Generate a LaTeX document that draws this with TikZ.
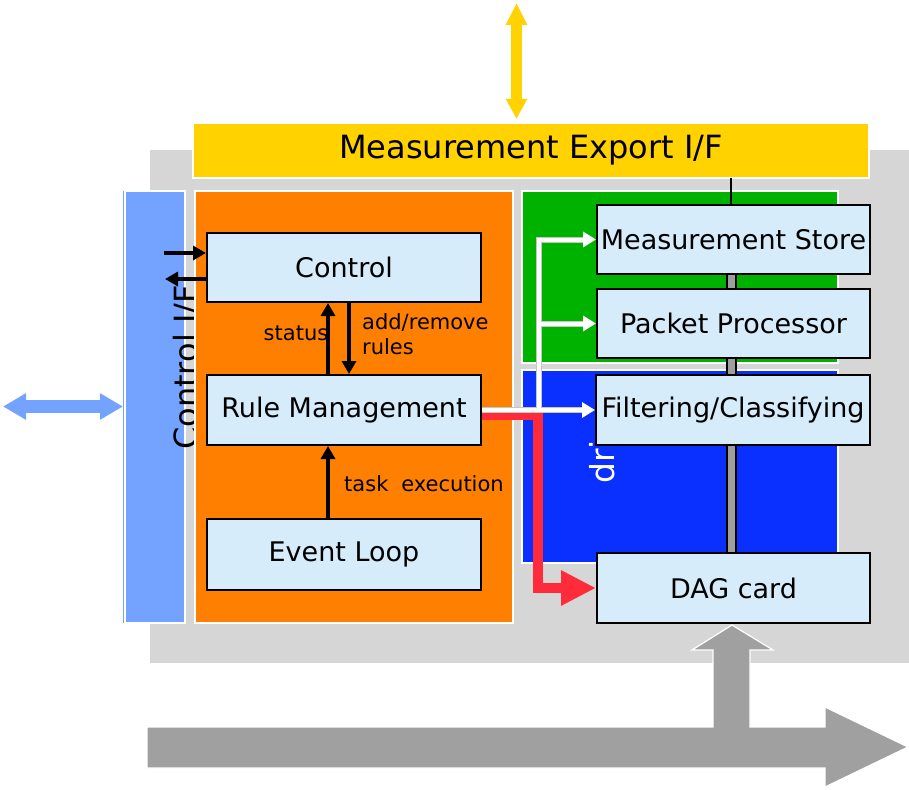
\documentclass[tikz,border=0pt]{standalone}
\usepackage{fontspec}
\setmainfont{DejaVu Sans}
\usetikzlibrary{arrows.meta}
\definecolor{bggray}{HTML}{D6D6D6}
\definecolor{expyellow}{HTML}{FFD200}
\definecolor{cifblue}{HTML}{74A3FF}
\definecolor{orangebg}{HTML}{FF8000}
\definecolor{greenbg}{HTML}{00B200}
\definecolor{drvblue}{HTML}{0A30FF}
\definecolor{boxfill}{HTML}{D6ECFB}
\definecolor{arrgray}{HTML}{A0A0A0}
\definecolor{redarr}{HTML}{FF2A3A}
\definecolor{bargray}{HTML}{9E9E9E}
\begin{document}
\begin{tikzpicture}[x=1pt,y=-1pt,
  region/.style={draw=white,line width=1.5pt},
  compbox/.style={draw=black,line width=2pt,fill=boxfill,inner sep=0pt,
    minimum width=273pt,minimum height=69pt,font=\fontsize{27}{30}\selectfont},
  lbl/.style={inner sep=0pt,font=\fontsize{21}{25}\selectfont},
  blackarr/.style={draw=black,line width=4.5pt,-{Triangle[width=14pt,length=13pt]}},
  whitearr/.style={draw=white,line width=4pt,-{Triangle[width=15pt,length=13pt]}},
  whiteedge/.style={draw=gray!45,line width=6pt},
  redpath/.style={draw=redarr,line width=10pt,-{Triangle[width=33pt,length=35pt]}},
]
\useasboundingbox (0,0) rectangle (909,789);
% background
\fill[bggray] (150,150) rectangle (909,663);
% big gray arrows
\draw[fill=arrgray,draw=white,line width=1.2pt]
  (147,727) -- (713,727) -- (713,650) -- (692,650) -- (732,625) -- (773,650)
  -- (750,650) -- (750,727) -- (825,727) -- (825,707) -- (908,747)
  -- (825,787) -- (825,768) -- (147,768) -- cycle;
% export interface
\node[region,fill=expyellow,minimum width=676pt,minimum height=55pt,inner sep=0pt,
  font=\fontsize{32}{36}\selectfont] (exp) at (531,150.5) {Measurement Export I/F};
\coordinate (ytop) at (516.5,3);
\coordinate (ybot) at (516.5,119);
\draw[draw=expyellow,line width=11pt,{Triangle[width=20pt,length=22pt]}-{Triangle[width=20pt,length=20pt]}] (ytop) -- (ybot);
% control interface
\fill[cifblue] (123,191) rectangle (124,623);
\draw[region,fill=cifblue] (125,191) rectangle (185,623);
\node[anchor=base west,rotate=90,inner sep=0pt,font=\fontsize{32}{36}\selectfont] (cif) at (197,450) {Control I/F};
\coordinate (bl) at (3,406.5);
\coordinate (br) at (123,406.5);
\draw[draw=cifblue,line width=13pt,{Triangle[width=25pt,length=23pt]}-{Triangle[width=25pt,length=23pt]}] (bl) -- (br);
% regions
\draw[region,fill=orangebg] (195,191) rectangle (513,623);
\draw[region,fill=greenbg] (522,191) rectangle (838,363);
\draw[region,fill=drvblue] (522,370) rectangle (838,563);
\node[anchor=base west,rotate=90,inner sep=0pt,text=white,font=\fontsize{33}{36}\selectfont] (drv) at (614,484) {dri};
% vertical bus bar
\draw[fill=bargray,line width=1.2pt] (727,274) rectangle (736,553);
% component boxes
\node[compbox,minimum width=274pt] (ctrl) at (344,267.5) {Control};
\node[compbox,minimum width=274pt,minimum height=70pt] (rm) at (344,410) {Rule Management};
\node[compbox,minimum width=274pt,minimum height=71pt] (ev) at (344,554.5) {Event Loop};
\node[compbox] (ms) at (733.5,239.5) {Measurement Store};
\node[compbox] (pp) at (733.5,323.5) {Packet Processor};
\node[compbox,minimum width=274pt,minimum height=70pt] (fc) at (733,410) {Filtering/Classifying};
\node[compbox,minimum height=70pt] (dag) at (733.5,588) {DAG card};
\coordinate (ltop) at (731,178);
\draw[line width=2pt] (ltop) -- (ltop |- ms.north);
% control arrows
\coordinate (cin) at (164,253);
\coordinate (cout) at (165,279);
\draw[blackarr] (cin) -- (cin -| ctrl.west);
\draw[blackarr] (cout -| ctrl.west) -- (cout);
\draw[blackarr] ([xshift=-16pt]rm.north) -- ([xshift=-16pt]ctrl.south);
\draw[blackarr] ([xshift=5pt]ctrl.south) -- ([xshift=5pt]rm.north);
\draw[blackarr] ([xshift=-16pt]ev.north) -- ([xshift=-16pt]rm.south);
\node[lbl] (lstatus) at (296,333) {status};
\node[lbl,anchor=west,align=left] (ladd) at (362,334.5) {add/remove\\rules};
\node[lbl,anchor=west] (ltask) at (344,484) {task\hspace{0.3em} execution};
% red path to DAG card
\coordinate (rsplit) at (537.5,415);
\draw[redpath] ([yshift=-5pt]rm.east) -- (rsplit) |- (dag.west);
% white paths
\coordinate (wsplit) at (539,410);
\draw[whiteedge] (rm.east) -- ([xshift=-12pt]fc.west);
\draw[whiteedge] (wsplit) |- ([xshift=-12pt]ms.west);
\draw[whiteedge] (wsplit) |- ([xshift=-12pt]pp.west);
\draw[whitearr] (rm.east) -- (fc.west);
\draw[whitearr] (wsplit) |- (ms.west);
\draw[whitearr] (wsplit) |- (pp.west);
\end{tikzpicture}
\end{document}
